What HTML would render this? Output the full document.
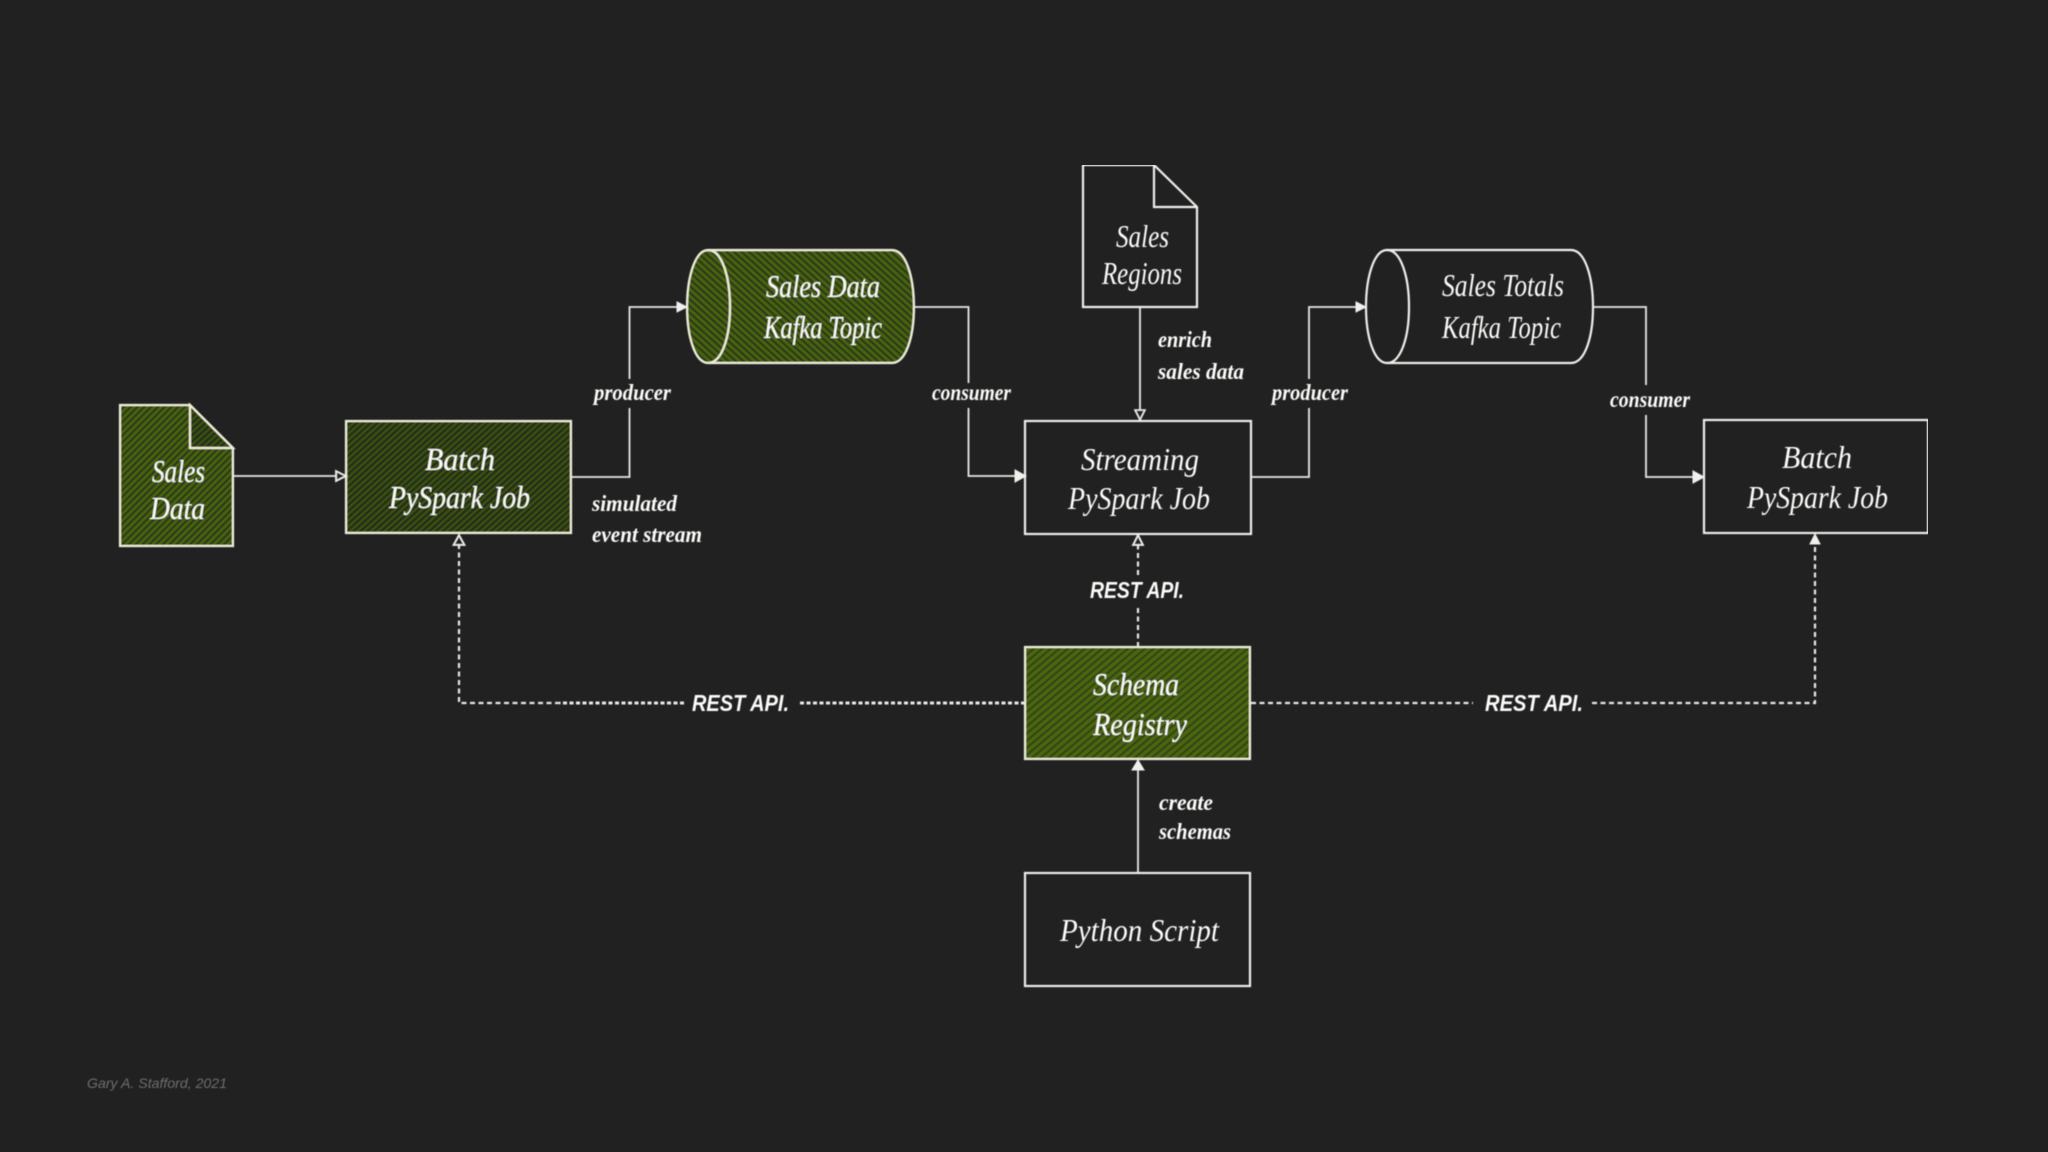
<!DOCTYPE html>
<html>
<head>
<meta charset="utf-8">
<style>
html,body{margin:0;padding:0;background:#212122;width:2048px;height:1152px;overflow:hidden}
svg{display:block}
.s{fill:none;stroke:#eeeeea;stroke-width:2.2;stroke-linejoin:miter}
.t{fill:none;stroke:#e8e8e4;stroke-width:1.8}
.d{fill:none;stroke:#e8e8e4;stroke-width:2.2;stroke-dasharray:5 3.5}
.dl{fill:none;stroke:#e8e8e4;stroke-width:3;stroke-dasharray:4 2.5}
.a{fill:#f0f0ec;stroke:#f0f0ec;stroke-width:1}
.gb{stroke:#eeeed8}
text{fill:#fbfbf8;font-family:"Liberation Serif",serif;font-style:italic}
.b{font-size:32px}
.m{font-size:23px;font-weight:bold}
.c{font-size:23px;font-weight:bold;font-family:"Liberation Sans",sans-serif}
.f{font-size:14px;fill:#6e6e6e;font-family:"Liberation Sans",sans-serif;font-style:italic}
</style>
</head>
<body>
<svg width="2048" height="1152" viewBox="0 0 2048 1152" xmlns="http://www.w3.org/2000/svg">
<defs>
<pattern id="hd" width="4.6" height="4.6" patternUnits="userSpaceOnUse" patternTransform="rotate(-42)">
<rect width="4.6" height="4.6" fill="#3c5210"/>
<rect width="4.6" height="2.3" fill="#222a1a"/>
</pattern>
<pattern id="hm" width="4.8" height="4.8" patternUnits="userSpaceOnUse" patternTransform="rotate(-45)">
<rect width="4.8" height="4.8" fill="#486310"/>
<rect width="4.8" height="1.9" fill="#27321a"/>
</pattern>
<pattern id="hl" width="5.5" height="5.5" patternUnits="userSpaceOnUse" patternTransform="rotate(-40)">
<rect width="5.5" height="5.5" fill="#4b6611"/>
<rect width="5.5" height="1.7" fill="#2c3a16"/>
</pattern>
<pattern id="hc" width="5" height="5" patternUnits="userSpaceOnUse" patternTransform="rotate(42)">
<rect width="5" height="5" fill="#4a6411"/>
<rect width="5" height="1.9" fill="#26301a"/>
</pattern>
<filter id="soft" x="0" y="0" width="100%" height="100%"><feGaussianBlur stdDeviation="0.45"/></filter>
</defs>
<rect width="2048" height="1152" fill="#212122"/>
<g filter="url(#soft)">
<!-- Sales Data doc -->
<path class="s gb" d="M120 405H190L233 448V546H120Z" style="fill:url(#hm)"/>
<path class="s gb" d="M190 405V448H233Z" style="fill:url(#hd)"/>
<!-- Batch green -->
<rect class="s gb" x="346" y="421" width="225" height="112" style="fill:url(#hd)"/>
<!-- Kafka green -->
<path class="s gb" d="M708 250H892C906 250 914 277 914 307C914 337 906 363 892 363H708C695 363 687 337 687 307C687 277 695 250 708 250Z" style="fill:url(#hc)"/>
<path class="s gb" d="M708 250C722 250 730 277 730 307C730 337 722 363 708 363" fill="none"/>
<!-- Sales Regions doc -->
<path class="s" d="M1083 165H1154L1197 207V307H1083Z"/>
<path class="s" d="M1154 165V207H1197"/>
<!-- Kafka white -->
<path class="s" d="M1387 250H1571C1585 250 1593 277 1593 307C1593 337 1585 363 1571 363H1387C1374 363 1366 337 1366 307C1366 277 1374 250 1387 250Z"/>
<path class="s" d="M1387 250C1401 250 1409 277 1409 307C1409 337 1401 363 1387 363"/>
<!-- Boxes -->
<rect class="s" x="1025" y="421" width="226" height="113"/>
<rect class="s" x="1704" y="420" width="224" height="113"/>
<rect class="s gb" x="1025" y="647" width="225" height="112" style="fill:url(#hl)"/>
<rect class="s" x="1025" y="873" width="225" height="113"/>

<!-- Connectors -->
<path class="t" d="M233 476H338"/>
<polygon points="336,471 346,476 336,481" fill="#212122" stroke="#f0f0ec" stroke-width="1.8"/>
<path class="t" d="M571 477H629.5V408M629.5 379V307H679"/>
<polygon class="a" points="677,302 687,307 677,312"/>
<path class="t" d="M914 307H968.5V383"/>
<path class="t" d="M968.5 408V476H1018"/>
<polygon class="a" points="1015,470 1026,476 1015,482"/>
<path class="t" d="M1140 307V411"/>
<polygon points="1135,410 1145,410 1140,420" fill="#212122" stroke="#f0f0ec" stroke-width="1.6"/>
<path class="t" d="M1251 477H1309V408M1309 379V307H1358"/>
<polygon class="a" points="1356,302 1366,307 1356,312"/>
<path class="t" d="M1593 307H1646V385M1646 415V477H1694"/>
<polygon class="a" points="1693,471 1704,477 1693,483"/>
<path class="t" d="M1138 873V768"/>
<polygon class="a" points="1132,770 1138,760 1144,770"/>
<!-- Dashed -->
<path class="d" d="M1138 647V608M1138 575V544"/>
<polygon points="1133,545 1138,535 1143,545" fill="#212122" stroke="#f0f0ec" stroke-width="1.8"/>
<path class="dl" d="M1025 703H799M684 703H560"/>
<path class="d" d="M560 703H459V544"/>
<polygon points="453.5,545 459,535 464.5,545" fill="#212122" stroke="#f0f0ec" stroke-width="1.8"/>
<path class="d" d="M1251 703H1473M1592 703H1815V544"/>
<polygon points="1810,544 1815,534 1820,544" fill="#f0f0ec" stroke="#f0f0ec"/>

<!-- Labels -->
<text class="b" x="152" y="482" textLength="53" lengthAdjust="spacingAndGlyphs">Sales</text>
<text class="b" x="150" y="519" textLength="55" lengthAdjust="spacingAndGlyphs">Data</text>
<text class="b" x="425" y="470" textLength="70" lengthAdjust="spacingAndGlyphs">Batch</text>
<text class="b" x="389" y="508" textLength="141" lengthAdjust="spacingAndGlyphs">PySpark Job</text>
<text class="b" x="766" y="297" textLength="114" lengthAdjust="spacingAndGlyphs">Sales Data</text>
<text class="b" x="764" y="338" textLength="118" lengthAdjust="spacingAndGlyphs">Kafka Topic</text>
<text class="b" x="1116" y="247" textLength="53" lengthAdjust="spacingAndGlyphs">Sales</text>
<text class="b" x="1102" y="284" textLength="80" lengthAdjust="spacingAndGlyphs">Regions</text>
<text class="b" x="1081" y="470" textLength="118" lengthAdjust="spacingAndGlyphs">Streaming</text>
<text class="b" x="1068" y="509" textLength="142" lengthAdjust="spacingAndGlyphs">PySpark Job</text>
<text class="b" x="1442" y="296" textLength="122" lengthAdjust="spacingAndGlyphs">Sales Totals</text>
<text class="b" x="1442" y="338" textLength="119" lengthAdjust="spacingAndGlyphs">Kafka Topic</text>
<text class="b" x="1782" y="468" textLength="70" lengthAdjust="spacingAndGlyphs">Batch</text>
<text class="b" x="1747" y="508" textLength="141" lengthAdjust="spacingAndGlyphs">PySpark Job</text>
<text class="b" x="1093" y="695" textLength="86" lengthAdjust="spacingAndGlyphs">Schema</text>
<text class="b" x="1093" y="735" textLength="94" lengthAdjust="spacingAndGlyphs">Registry</text>
<text class="b" x="1060" y="941" textLength="159" lengthAdjust="spacingAndGlyphs">Python Script</text>

<text class="m" x="594" y="400" textLength="77" lengthAdjust="spacingAndGlyphs">producer</text>
<text class="m" x="592" y="511" textLength="85" lengthAdjust="spacingAndGlyphs">simulated</text>
<text class="m" x="592" y="542" textLength="110" lengthAdjust="spacingAndGlyphs">event stream</text>
<text class="m" x="932" y="400" textLength="79" lengthAdjust="spacingAndGlyphs">consumer</text>
<text class="m" x="1158" y="347" textLength="54" lengthAdjust="spacingAndGlyphs">enrich</text>
<text class="m" x="1158" y="379" textLength="86" lengthAdjust="spacingAndGlyphs">sales data</text>
<text class="m" x="1272" y="400" textLength="76" lengthAdjust="spacingAndGlyphs">producer</text>
<text class="m" x="1610" y="407" textLength="80" lengthAdjust="spacingAndGlyphs">consumer</text>
<text class="m" x="1159" y="810" textLength="54" lengthAdjust="spacingAndGlyphs">create</text>
<text class="m" x="1159" y="839" textLength="72" lengthAdjust="spacingAndGlyphs">schemas</text>
<text class="c" x="692" y="711" textLength="97" lengthAdjust="spacingAndGlyphs">REST API.</text>
<text class="c" x="1090" y="598" textLength="94" lengthAdjust="spacingAndGlyphs">REST API.</text>
<text class="c" x="1485" y="711" textLength="98" lengthAdjust="spacingAndGlyphs">REST API.</text>
<text class="f" x="87" y="1088" textLength="140" lengthAdjust="spacingAndGlyphs">Gary A. Stafford, 2021</text>
</g>
</svg>
</body>
</html>
